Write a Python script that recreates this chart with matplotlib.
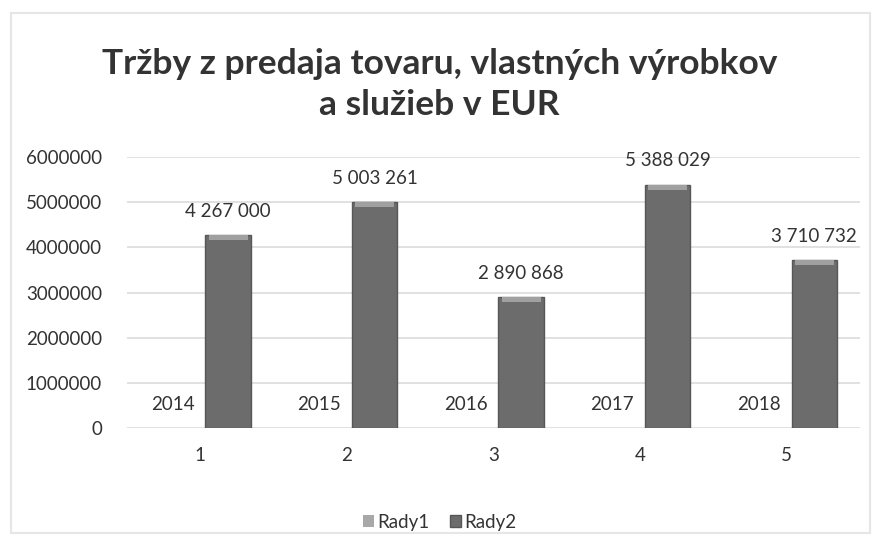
import numpy as np
import matplotlib.pyplot as plt

# chart data
categories = [1, 2, 3, 4, 5]
rady1 = [2014, 2015, 2016, 2017, 2018]
rady2 = [4267000, 5003261, 2890868, 5388029, 3710732]
y_ticks = [0, 1000000, 2000000, 3000000, 4000000, 5000000, 6000000]

title = 'Tržby z predaja tovaru, vlastných výrobkov\na služieb v EUR'
text_color = '#333333'


def fmt_space(v):
    return f'{v:,}'.replace(',', ' ')


plt.rcParams['font.family'] = ['Lato', 'DejaVu Sans']

fig = plt.figure(figsize=(8.79, 5.35), dpi=100)
ax = fig.add_axes([0.1445, 0.2, 0.8335, 0.5065])

x = np.array(categories, dtype=float)
width = 0.31
offset = 0.19

b1 = ax.bar(x - offset, rady1, width, color='#a8a8a8', label='Rady1', zorder=3)
b2 = ax.bar(x + offset, rady2, width, color='#6c6c6c', edgecolor='#575757',
            linewidth=1.0, label='Rady2', zorder=3)
# light bevel on top of each bar
cap = 110000
ax.bar(x + offset, [cap] * len(rady2), width * 0.86,
       bottom=[v - cap for v in rady2], color='#a0a0a0', zorder=4)

ax.bar_label(b1, labels=[str(v) for v in rady1], padding=11,
             fontsize=13.5, color=text_color)
ax.bar_label(b2, labels=[fmt_space(v) for v in rady2], padding=11,
             fontsize=13.5, color=text_color)

ax.set_xlim(0.5, 5.5)
ax.set_ylim(0, 6000000)
ax.set_xticks(categories)
ax.set_xticklabels([str(c) for c in categories])
ax.set_yticks(y_ticks)
ax.set_yticklabels([str(t) for t in y_ticks])
ax.tick_params(axis='both', length=0, labelsize=13.5, colors=text_color)
ax.tick_params(axis='y', pad=18)
ax.tick_params(axis='x', pad=14)

ax.yaxis.grid(True, color='#dcdcdc', linewidth=1.2, zorder=0)
for s in ax.spines.values():
    s.set_visible(False)

fig.text(0.5, 0.842, title, ha='center', va='center', fontsize=25.5,
         fontweight='bold', color=text_color, linespacing=1.35)

fig.legend(handles=[b1, b2], labels=['Rady1', 'Rady2'], loc='center',
           bbox_to_anchor=(0.5, 0.024), ncol=2, frameon=False, fontsize=13.5,
           handlelength=0.6, handleheight=0.6, handletextpad=0.15,
           columnspacing=1.1, labelcolor=text_color)

# faint outer border of the chart area
border = plt.Rectangle((0.012, 0.003), 0.978, 0.972, transform=fig.transFigure,
                       fill=False, edgecolor='#e6e6e6', linewidth=1.5)
fig.patches.append(border)

fig.savefig('out.png', dpi=100)
